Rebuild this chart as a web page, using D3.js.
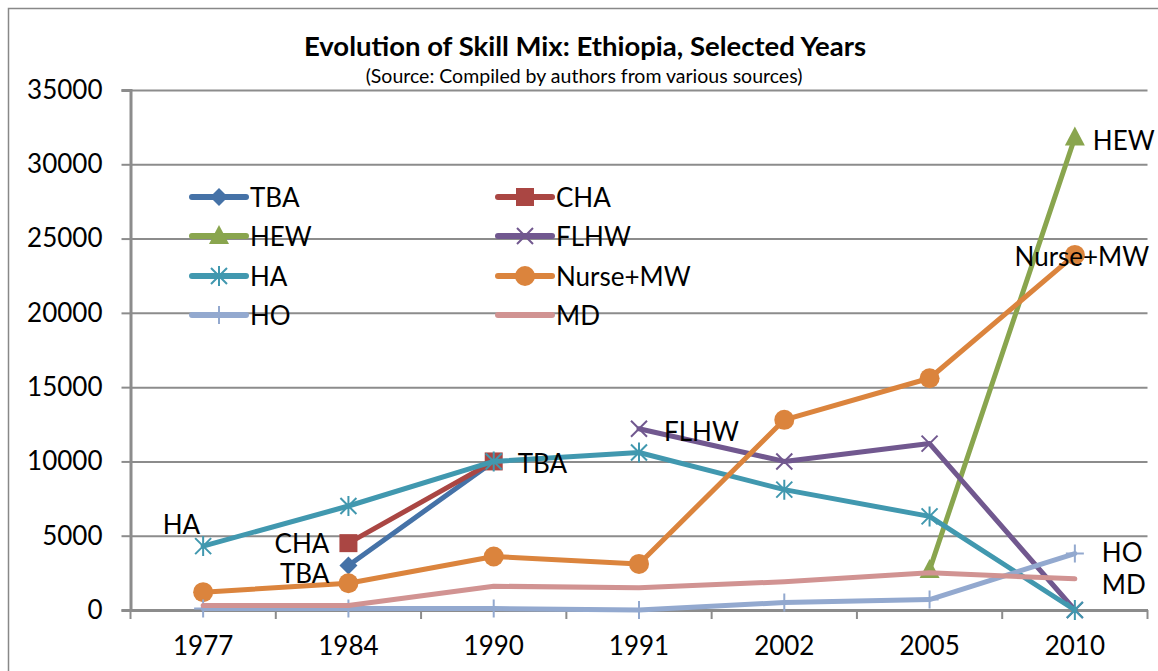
<!DOCTYPE html>
<html>
<head>
<meta charset="utf-8">
<script src="https://cdn.jsdelivr.net/npm/d3@7"></script>
<style>
  body { margin: 0; background: #fff; }
  svg { display: block; font-family: Lato, "Open Sans", sans-serif; }
</style>
</head>
<body>
<div id="chart"></div>
<script>
// ---- data ----
const years = ['1977', '1984', '1990', '1991', '2002', '2005', '2010'];
const yTicks = [0, 5000, 10000, 15000, 20000, 25000, 30000, 35000];

const tba   = [null, 3000, 10000, null, null, null, null];
const cha   = [null, 4500, 10000, null, null, null, null];
const hew   = [null, null, null, null, null, 2700, 31800];
const flhw  = [null, null, null, 12200, 10000, 11200, 0];
const ha    = [4300, 7000, 10000, 10600, 8100, 6300, 0];
const nurse = [1200, 1800, 3600, 3100, 12800, 15600, 23900];
const ho    = [100, 100, 100, 0, 500, 700, 3800];
const md    = [300, 300, 1600, 1500, 1900, 2500, 2100];

const seriesNames  = ['TBA', 'CHA', 'HEW', 'FLHW', 'HA', 'Nurse+MW', 'HO', 'MD'];
const seriesValues = [tba, cha, hew, flhw, ha, nurse, ho, md];
const seriesColors = ['#4572A7', '#AA4643', '#89A54E', '#71588F', '#4198AF', '#DB843D', '#93A9CF', '#D19392'];
const seriesMarkers = ['diamond', 'square', 'triangle', 'cross', 'star', 'circle', 'plus', 'none'];

// data labels: [series, year, text]
const pointLabels = [
  ['HA', '1977', 'HA'],
  ['CHA', '1984', 'CHA'],
  ['TBA', '1984', 'TBA'],
  ['TBA', '1990', 'TBA'],
  ['FLHW', '1991', 'FLHW'],
  ['HEW', '2010', 'HEW'],
  ['Nurse+MW', '2010', 'Nurse+MW'],
  ['HO', '2010', 'HO'],
  ['MD', '2010', 'MD']
];
// where each label sits relative to its point
const labelPlacement = {
  'HA|1977':       { dx: -3,  dy: -22, anchor: 'end' },
  'CHA|1984':      { dx: -19, dy: 0,   anchor: 'end' },
  'TBA|1984':      { dx: -19, dy: 8,   anchor: 'end' },
  'TBA|1990':      { dx: 24,  dy: 2,   anchor: 'start' },
  'FLHW|1991':     { dx: 25,  dy: 2,   anchor: 'start' },
  'HEW|2010':      { dx: 18,  dy: 2,   anchor: 'start' },
  'Nurse+MW|2010': { dx: 7,   dy: 1,   anchor: 'middle' },
  'HO|2010':       { dx: 27,  dy: -2,  anchor: 'start' },
  'MD|2010':       { dx: 27,  dy: 5,   anchor: 'start' }
};

const series = seriesNames.map((name, i) => ({
  name: name,
  color: seriesColors[i],
  marker: seriesMarkers[i],
  points: years.map((yr, j) => ({ year: yr, value: seriesValues[i][j] }))
}));

// ---- layout ----
const W = 1158, H = 671;
const plot = { left: 130.5, right: 1147.5, top: 90, bottom: 610 };
const FS = '26px';

const svg = d3.select('#chart').append('svg')
  .attr('width', W)
  .attr('height', H);

// outer chart border (only top/left visible in frame)
svg.append('rect')
  .attr('x', 8.5).attr('y', 8.5)
  .attr('width', 1300).attr('height', 900)
  .attr('fill', 'none')
  .attr('stroke', '#888')
  .attr('stroke-width', 1.5);

const x = d3.scaleBand().domain(years).range([plot.left, plot.right]).padding(0);
const cx = d => x(d) + x.bandwidth() / 2;
const y = d3.scaleLinear().domain([0, 35000]).range([plot.bottom, plot.top]);

// title
svg.append('text')
  .attr('x', 585).attr('y', 56)
  .attr('text-anchor', 'middle')
  .style('font-weight', 'bold')
  .style('font-size', '27.5px')
  .text('Evolution of Skill Mix: Ethiopia, Selected Years');
svg.append('text')
  .attr('x', 584).attr('y', 83)
  .attr('text-anchor', 'middle')
  .style('font-size', '19.5px')
  .text('(Source: Compiled by authors from various sources)');

// gridlines
svg.append('g')
  .attr('class', 'grid')
  .attr('transform', 'translate(' + plot.left + ',0)')
  .call(d3.axisLeft(y).tickValues(yTicks).tickSize(-(plot.right - plot.left)).tickFormat(''))
  .call(g => g.select('.domain').remove())
  .call(g => g.selectAll('line').attr('stroke', '#8c8c8c').attr('stroke-width', 2));

// y axis
svg.append('g')
  .attr('transform', 'translate(' + plot.left + ',0)')
  .call(d3.axisLeft(y).tickValues(yTicks).tickSize(9).tickPadding(19).tickFormat(d3.format('d')))
  .call(g => g.select('.domain').attr('stroke', '#8c8c8c').attr('stroke-width', 3))
  .call(g => g.selectAll('line').attr('stroke', '#8c8c8c').attr('stroke-width', 2))
  .call(g => g.selectAll('text').style('font-size', FS).style('font-family', 'Lato').attr('fill', '#000'));

// x axis: labels at band centres, ticks at band edges
svg.append('g')
  .attr('transform', 'translate(0,' + plot.bottom + ')')
  .call(d3.axisBottom(x).tickSize(0).tickPadding(27))
  .call(g => g.select('.domain').attr('stroke', '#8c8c8c').attr('stroke-width', 3))
  .call(g => g.selectAll('text').style('font-size', FS).style('font-family', 'Lato').attr('fill', '#000'));

svg.append('g')
  .selectAll('line')
  .data(years.concat(['end']))
  .join('line')
  .attr('x1', d => d === 'end' ? plot.right : x(d))
  .attr('x2', d => d === 'end' ? plot.right : x(d))
  .attr('y1', plot.bottom)
  .attr('y2', plot.bottom + 9)
  .attr('stroke', '#8c8c8c')
  .attr('stroke-width', 2);

// marker drawing
function drawMarker(g, type, color) {
  if (type === 'diamond') {
    g.append('path').attr('d', 'M0,-9L9,0L0,9L-9,0Z').attr('fill', color);
  } else if (type === 'square') {
    g.append('rect').attr('x', -9).attr('y', -9).attr('width', 18).attr('height', 18).attr('fill', color);
  } else if (type === 'triangle') {
    g.append('path').attr('d', 'M0,-11L10,8L-10,8Z').attr('fill', color);
  } else if (type === 'circle') {
    g.append('circle').attr('r', 10).attr('fill', color);
  } else if (type === 'cross') {
    g.append('path').attr('d', 'M-8,-8L8,8M-8,8L8,-8')
      .attr('stroke', color).attr('stroke-width', 2).attr('fill', 'none');
  } else if (type === 'star') {
    g.append('path').attr('d', 'M-8,-8L8,8M-8,8L8,-8M0,-10L0,10')
      .attr('stroke', color).attr('stroke-width', 2).attr('fill', 'none');
  } else if (type === 'plus') {
    g.append('path').attr('d', 'M-9,0L9,0M0,-9L0,9')
      .attr('stroke', color).attr('stroke-width', 2).attr('fill', 'none');
  }
}

const line = d3.line()
  .defined(d => d.value !== null)
  .x(d => cx(d.year))
  .y(d => y(d.value));

const seriesG = svg.append('g')
  .selectAll('g')
  .data(series)
  .join('g');

seriesG.append('path')
  .attr('d', d => line(d.points))
  .attr('fill', 'none')
  .attr('stroke', d => d.color)
  .attr('stroke-width', 5)
  .attr('stroke-linejoin', 'round')
  .attr('stroke-linecap', 'round');

seriesG.each(function (s) {
  const g = d3.select(this);
  s.points.filter(p => p.value !== null).forEach(p => {
    const m = g.append('g').attr('transform', 'translate(' + cx(p.year) + ',' + y(p.value) + ')');
    drawMarker(m, s.marker, s.color);
  });
});

// data labels
svg.append('g')
  .selectAll('text')
  .data(pointLabels)
  .join('text')
  .each(function (d) {
    const s = series.find(q => q.name === d[0]);
    const p = s.points.find(q => q.year === d[1]);
    const pl = labelPlacement[d[0] + '|' + d[1]];
    d3.select(this)
      .attr('x', cx(p.year) + pl.dx)
      .attr('y', y(p.value) + pl.dy)
      .attr('text-anchor', pl.anchor)
      .attr('dominant-baseline', 'central')
      .style('font-size', FS)
      .text(d[2]);
  });

// legend (two columns, four rows)
const legendCols = [192, 498];
const legendRows = [197, 236, 276, 315];
const legend = svg.append('g')
  .selectAll('g')
  .data(series)
  .join('g')
  .attr('transform', (d, i) => 'translate(' + legendCols[i % 2] + ',' + legendRows[Math.floor(i / 2)] + ')');

legend.append('line')
  .attr('x1', 0).attr('x2', 54)
  .attr('stroke', d => d.color)
  .attr('stroke-width', 6)
  .attr('stroke-linecap', 'round');
legend.each(function (d) {
  const m = d3.select(this).append('g').attr('transform', 'translate(27,0)');
  drawMarker(m, d.marker, d.color);
});
legend.append('text')
  .attr('x', 58)
  .attr('dominant-baseline', 'central')
  .style('font-size', FS)
  .text(d => d.name);
</script>
</body>
</html>
